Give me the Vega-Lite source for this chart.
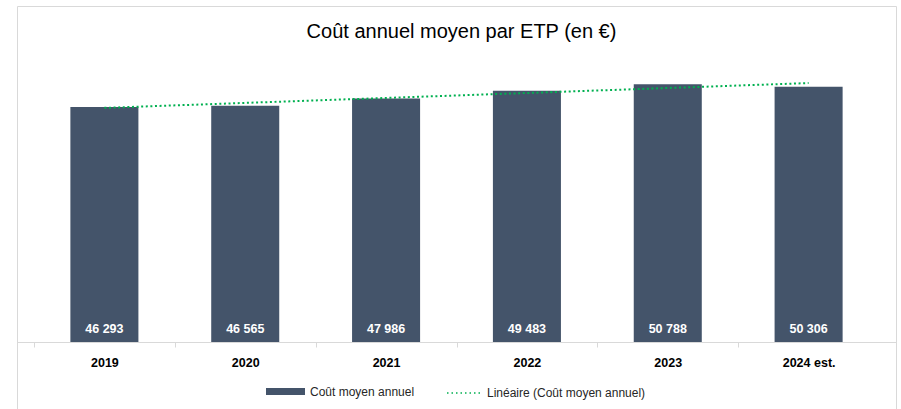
{
  "$schema": "https://vega.github.io/schema/vega-lite/v6.json",
  "width": 879,
  "height": 420,
  "padding": {"left": 17, "top": 6, "right": 5, "bottom": 0},
  "config": {
    "view": {"stroke": "#d9d9d9", "strokeWidth": 1},
    "font": "Liberation Sans"
  },
  "title": {
    "text": "Coût annuel moyen par ETP (en €)",
    "anchor": "middle",
    "fontSize": 20,
    "fontWeight": "normal",
    "color": "black",
    "offset": -36,
    "dx": 5
  },
  "data": {
    "values": [
      {"year": "2019", "value": 46293, "label": "46 293", "trend": 46125},
      {"year": "2020", "value": 46565, "label": "46 565", "trend": 47103},
      {"year": "2021", "value": 47986, "label": "47 986", "trend": 48081},
      {"year": "2022", "value": 49483, "label": "49 483", "trend": 49059},
      {"year": "2023", "value": 50788, "label": "50 788", "trend": 50037},
      {"year": "2024 est.", "value": 50306, "label": "50 306", "trend": 51015}
    ]
  },
  "layer": [
    {
      "mark": {"type": "bar"},
      "encoding": {
        "x": {
          "field": "year",
          "type": "nominal",
          "sort": null,
          "scale": {"paddingInner": 0.517, "paddingOuter": 0.379},
          "axis": {
            "title": null,
            "orient": "bottom",
            "offset": -84,
            "domain": true,
            "domainColor": "#d9d9d9",
            "grid": false,
            "ticks": true,
            "tickOffset": -70.4,
            "labelOffset": 70.4,
            "tickColor": "#d9d9d9",
            "tickSize": 5,
            "labelFontWeight": "bold",
            "labelFontSize": 12.5,
            "labelColor": "black",
            "labelPadding": 9,
            "labelAngle": 0
          }
        },
        "y": {
          "field": "value",
          "type": "quantitative",
          "scale": {"domain": [-16548, 66194], "nice": false, "zero": false},
          "axis": null
        },
        "fill": {
          "datum": "Coût moyen annuel",
          "scale": {"range": ["#44546A"]},
          "legend": {
            "orient": "none",
            "legendX": 249,
            "legendY": 366,
            "direction": "horizontal",
            "title": null,
            "symbolType": "M-1,-0.18H1V0.18H-1Z",
            "symbolSize": 1521,
            "symbolStrokeWidth": 0,
            "symbolOpacity": 1,
            "labelFontSize": 12,
            "labelOffset": 5,
            "labelColor": "#262626"
          }
        }
      }
    },
    {
      "mark": {"type": "line", "strokeWidth": 2, "strokeDash": [2, 2.6]},
      "encoding": {
        "x": {"field": "year", "type": "nominal", "sort": null},
        "y": {"field": "trend", "type": "quantitative"},
        "stroke": {
          "datum": "Linéaire (Coût moyen annuel)",
          "scale": {"range": ["#00B050"]},
          "legend": {
            "orient": "none",
            "legendX": 429,
            "legendY": 369,
            "direction": "horizontal",
            "title": null,
            "symbolType": "stroke",
            "symbolSize": 1156,
            "symbolDash": [1.5, 3],
            "symbolStrokeWidth": 1.5,
            "labelFontSize": 12,
            "labelOffset": 5,
            "labelColor": "#262626"
          }
        }
      }
    },
    {
      "mark": {"type": "text", "color": "white", "fontWeight": "bold", "fontSize": 12.5, "baseline": "alphabetic", "dy": -9},
      "encoding": {
        "x": {"field": "year", "type": "nominal", "sort": null},
        "y": {"datum": 0, "type": "quantitative"},
        "text": {"field": "label", "type": "nominal"}
      }
    }
  ]
}
